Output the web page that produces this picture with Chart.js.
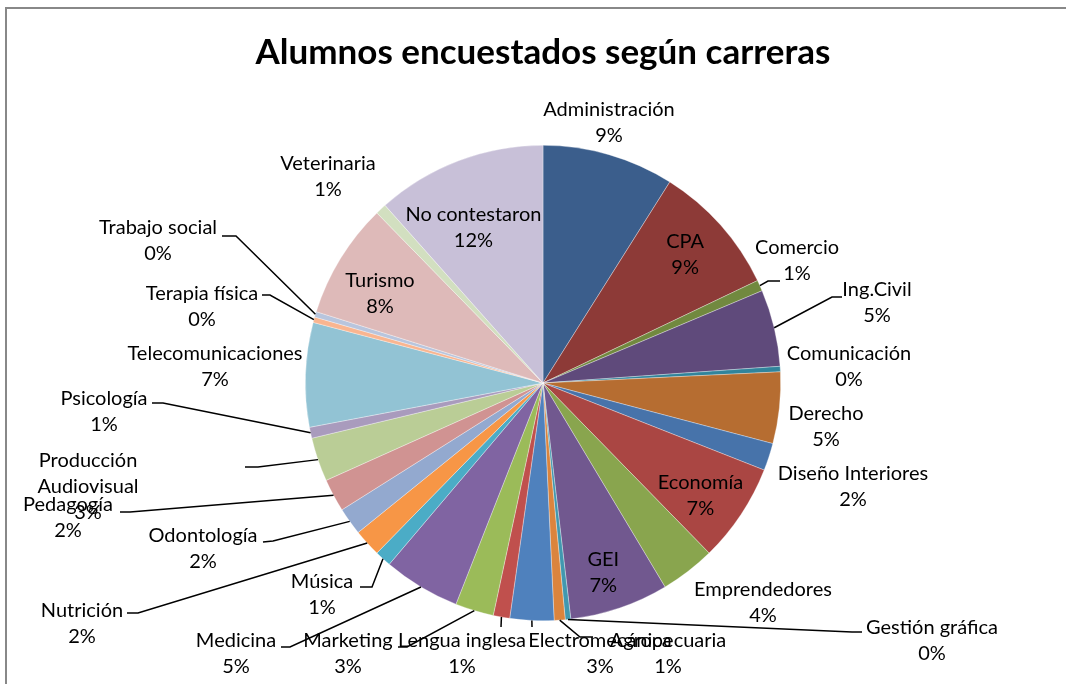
<!DOCTYPE html>
<html>
<head>
<meta charset="utf-8">
<script src="https://cdn.jsdelivr.net/npm/chart.js@4.4.1/dist/chart.umd.min.js"></script>
<style>
    html, body { margin: 0; padding: 0; background: #fff; }
    #frame {
        position: absolute; left: 5px; top: 7px; width: 1200px; height: 800px;
        border-top: 2px solid #888; border-left: 2px solid #888;
    }
    #chartPreview { position: absolute; left: 0; top: 0; }
</style>
</head>
<body>
<div id="frame"></div>
<canvas id="chartPreview" width="1066" height="684"></canvas>
<script>
const title = "Alumnos encuestados según carreras";

const carreras = [
    "Administración", "CPA", "Comercio", "Ing.Civil", "Comunicación", "Derecho",
    "Diseño Interiores", "Economía", "Emprendedores", "GEI", "Gestión gráfica",
    "Agropecuaria", "Electromecánica", "Lengua inglesa", "Marketing", "Medicina",
    "Música", "Nutrición", "Odontología", "Pedagogía", "Producción Audiovisual",
    "Psicología", "Telecomunicaciones", "Terapia física", "Trabajo social",
    "Turismo", "Veterinaria", "No contestaron"
];

// alumnos por carrera (estimado del gráfico)
const alumnos = [
    24, 24, 2, 14, 1, 13,
    5, 18, 10, 18, 1,
    2, 8, 3, 7, 14,
    3, 5, 5, 6, 8,
    2, 19, 1, 1,
    21, 2, 31
];

const colores = [
    "#3b5e8c", "#8d3a37", "#71893f", "#5f4a7b", "#31849b", "#b66d31",
    "#4773aa", "#aa4643", "#89a54e", "#71588f", "#4198af",
    "#db843d", "#4f81bd", "#c0504d", "#9bbb59", "#8064a2",
    "#4bacc6", "#f79646", "#93a9cf", "#d09392", "#bacd96",
    "#a99bbd", "#92c3d4", "#f9b590", "#b8c5dd",
    "#debab9", "#d2dfc0", "#c8c0d8"
];

// posicion de etiquetas: inside -> sobre la porcion (con ajuste), si no offset desde el centro
// leader: puntos (offset desde el centro) despues del punto sobre el borde
const labelLayout = [
    { x: 66, y: -260 },
    { inside: true, dx: 0, dy: -2 },
    { x: 254, y: -122, leader: [[225, -102], [237, -102]] },
    { x: 334, y: -80, leader: [[289, -86], [299, -86]] },
    { x: 306, y: -16 },
    { x: 283, y: 44 },
    { x: 310, y: 104 },
    { inside: true, dx: -1, dy: 7 },
    { x: 220, y: 220 },
    { inside: true, dx: -1, dy: 10 },
    { x: 389, y: 258, leader: [[309, 249], [319, 249]] },
    { x: 125, y: 271, leader: [[37, 254], [50, 254]] },
    { x: 57, y: 271, leader: [[-11, 244]] },
    { x: -81, y: 271, leader: [[-42, 244]] },
    { x: -195, y: 271, leader: [[-136, 264], [-145, 264]] },
    { x: -307, y: 271, leader: [[-253, 264], [-262, 264]] },
    { x: -221, y: 212, leader: [[-171, 204], [-183, 204]] },
    { x: -461, y: 241, leader: [[-405, 230], [-416, 230]] },
    { x: -340, y: 166, leader: [[-270, 158], [-280, 159]] },
    { x: -475, y: 135, leader: [[-413, 129], [-423, 129]] },
    { x: -455, y: 104, leader: [[-285, 84], [-298, 84]] },
    { x: -439, y: 29, leader: [[-380, 20], [-391, 20]] },
    { x: -328, y: -16 },
    { x: -341, y: -76, leader: [[-273, -88], [-281, -88]] },
    { x: -385, y: -142, leader: [[-307, -147], [-321, -147]] },
    { inside: true, dx: -1, dy: 10 },
    { x: -215, y: -206 },
    { inside: true, dx: -2, dy: 22 }
];

const labelFont = "20px Lato";
const lineHeight = 26;

function wrapLabel(ctx, text, maxWidth) {
    const words = text.split(" ");
    const lines = [];
    let line = "";
    words.forEach(function (w) {
        const test = line ? line + " " + w : w;
        if (line && ctx.measureText(test).width > maxWidth) {
            lines.push(line);
            line = w;
        } else {
            line = test;
        }
    });
    lines.push(line);
    return lines;
}

const pieLabels = {
    id: "pieLabels",
    afterDatasetsDraw(chart) {
        const ctx = chart.ctx;
        const meta = chart.getDatasetMeta(0);
        const values = chart.data.datasets[0].data;
        const total = values.reduce((a, b) => a + b, 0);

        ctx.save();
        ctx.font = labelFont;
        ctx.fillStyle = "#000";
        ctx.strokeStyle = "#000";
        ctx.lineWidth = 1.5;
        ctx.textAlign = "center";
        ctx.textBaseline = "middle";

        meta.data.forEach(function (arc, i) {
            const L = labelLayout[i];
            const mid = (arc.startAngle + arc.endAngle) / 2;
            const cx = arc.x, cy = arc.y, r = arc.outerRadius;
            let px, py;

            if (L.inside) {
                px = cx + Math.cos(mid) * r * 0.8 + L.dx;
                py = cy + Math.sin(mid) * r * 0.8 + L.dy;
            } else {
                px = cx + L.x;
                py = cy + L.y;
            }

            if (L.leader) {
                ctx.beginPath();
                ctx.moveTo(cx + Math.cos(mid) * r, cy + Math.sin(mid) * r);
                L.leader.forEach(function (p) {
                    ctx.lineTo(cx + p[0], cy + p[1]);
                });
                ctx.stroke();
            }

            const pct = Math.round(values[i] / total * 100) + "%";
            const lines = wrapLabel(ctx, chart.data.labels[i], 170).concat([pct]);
            const top = py - (lines.length - 1) * lineHeight / 2;
            lines.forEach(function (t, k) {
                ctx.fillText(t, px, top + k * lineHeight);
            });
        });
        ctx.restore();
    }
};

const cfg = {
    type: "pie",
    data: {
        labels: carreras,
        datasets: [
            {
                data: alumnos,
                backgroundColor: colores,
                borderColor: "rgba(255,255,255,0.55)",
                borderWidth: 0.6,
            },
        ],
    },
    options: {
        responsive: false,
        animation: false,
        layout: { padding: { left: 20, right: 0, top: 0, bottom: 63 } },
        plugins: {
            legend: { display: false },
            tooltip: { enabled: false },
            title: {
                display: true,
                text: title,
                color: "#000",
                font: { family: "Lato", size: 35, weight: "bold", lineHeight: 1.2 },
                padding: { top: 32, bottom: 71 },
            },
        },
    },
    plugins: [pieLabels],
};

new Chart(document.getElementById("chartPreview"), cfg);
</script>
</body>
</html>
